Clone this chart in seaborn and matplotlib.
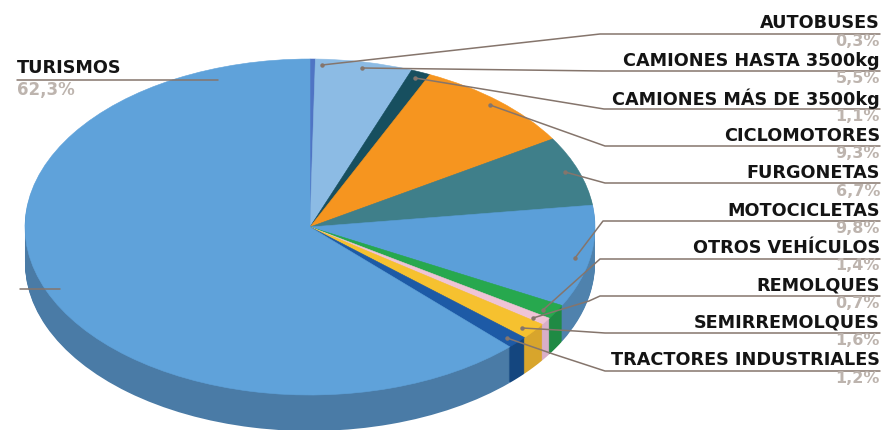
import matplotlib
matplotlib.use("Agg")
import matplotlib.pyplot as plt
import seaborn as sns

# data
categorias = ['AUTOBUSES', 'CAMIONES HASTA 3500kg', 'CAMIONES MÁS DE 3500kg', 'CICLOMOTORES',
              'FURGONETAS', 'MOTOCICLETAS', 'OTROS VEHÍCULOS', 'REMOLQUES', 'SEMIRREMOLQUES',
              'TRACTORES INDUSTRIALES', 'TURISMOS']
valores = [0.3, 5.5, 1.1, 9.3, 6.7, 9.8, 1.4, 0.7, 1.6, 1.2, 62.3]
etiquetas = ['0,3%', '5,5%', '1,1%', '9,3%', '6,7%', '9,8%', '1,4%', '0,7%', '1,6%', '1,2%', '62,3%']

colores = ['#4f74c4', '#8cbbe4', '#174f5f', '#f6951f', '#3f7f8a', '#5b9fd9',
           '#27a84e', '#efc4d6', '#f6c12f', '#1d5aa6', '#5fa2da']
colores_lado = ['#3b5a9a', '#6a94b8', '#123f4c', '#c0761a', '#2f646d', '#4f82ad',
                '#1f8a44', '#d9aec8', '#d8a52c', '#14467f', '#4a7ba6']

# leader lines in image pixels, from slice to the text column
guias = [[(322, 65), (600, 34), (880, 34)],
         [(362, 68), (602, 71), (880, 71)],
         [(415, 78), (604, 109), (880, 109)],
         [(490, 105), (605, 146), (880, 146)],
         [(565, 172), (605, 183), (880, 183)],
         [(575, 258), (603, 221), (880, 221)],
         [(543, 310), (600, 259), (880, 259)],
         [(533, 318), (589, 301), (600, 296), (880, 296)],
         [(522, 328), (575, 331), (605, 333), (880, 333)],
         [(507, 338), (553, 354), (605, 371), (880, 371)],
         [(218, 80), (17, 80)],
         [(60, 289), (20, 289)]]

W, H = 883, 430
CX, CY, RX, RY = 310, 227, 285, 168
FONDO = 36


def px_x(x):
    return (x - CX) / RX


def px_y(y):
    return (CY - y) / RY


sns.set_theme(style='white')
plt.rcParams['font.family'] = ['DejaVu Sans']

fig = plt.figure(figsize=(W / 100, H / 100), dpi=100)
ax = fig.add_axes([0, 0, 1, 1])

# side of the pie, stacked copies going up to the top face
for d in range(FONDO, 0, -1):
    ax.pie(valores, colors=colores_lado, startangle=90, counterclock=False,
           center=(0, -d / RY), radius=1, wedgeprops={'linewidth': 0})

cuñas, _ = ax.pie(valores, colors=colores, startangle=90, counterclock=False,
                  center=(0, 0), radius=1)
for c, col in zip(cuñas, colores):
    c.set_edgecolor(col)
    c.set_linewidth(0.4)

ax.set_aspect('auto')
ax.set_xlim(px_x(0), px_x(W))
ax.set_ylim(px_y(H), px_y(0))
ax.axis('off')

for g in guias:
    ax.plot([px_x(p[0]) for p in g], [px_y(p[1]) for p in g], color='#85756c', lw=1.1, zorder=5)
    if len(g) > 2:
        ax.plot(px_x(g[0][0]), px_y(g[0][1]), 'o', color='#85756c', ms=2.2, zorder=5)

# right column of labels, one row every 37.4 px
for i in range(10):
    y = 23 + i * 37.4
    ax.text(px_x(880), px_y(y + 0.5), categorias[i], ha='right', va='center', fontsize=12.7,
            fontweight='bold', color='#141414', zorder=6)
    ax.text(px_x(880), px_y(y + 18.5), etiquetas[i], ha='right', va='center', fontsize=11.5,
            fontweight='bold', color='#bdb4ae', zorder=6)

ax.text(px_x(17), px_y(68), categorias[10], ha='left', va='center', fontsize=12.7,
        fontweight='bold', color='#141414', zorder=6)
ax.text(px_x(17), px_y(90), etiquetas[10], ha='left', va='center', fontsize=12,
        fontweight='bold', color='#bdb4ae', zorder=6)

fig.savefig('out.png', dpi=100, facecolor='white')
